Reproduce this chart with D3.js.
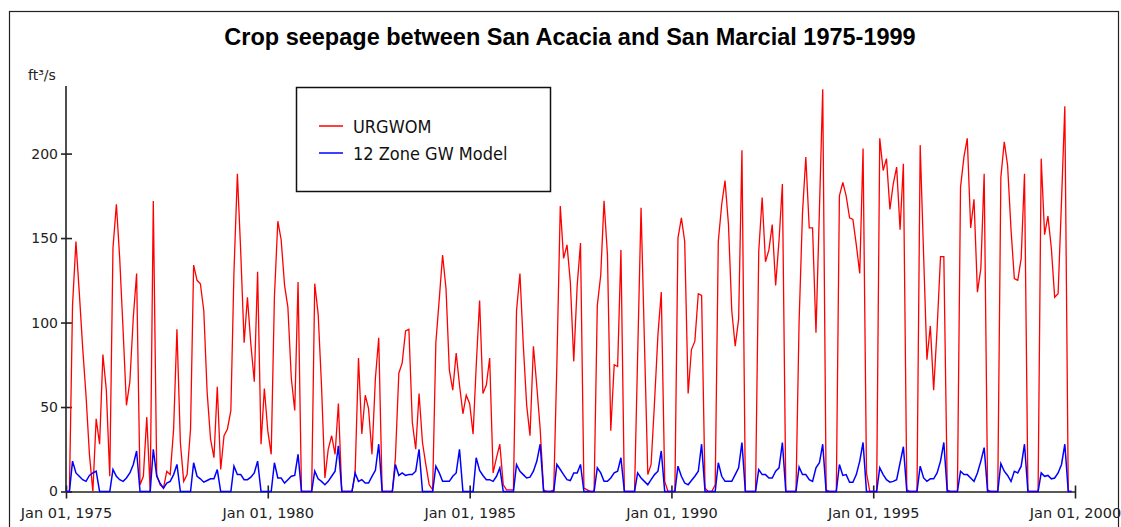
<!DOCTYPE html>
<html>
<head>
<meta charset="utf-8">
<script src="https://cdn.jsdelivr.net/npm/d3@7"></script>
<style>
  body { margin: 0; background: #fff; }
  svg { display: block; }
  .tick text { fill: #222; }
</style>
</head>
<body>
<div id="chart"></div>
<script>
// monthly values, Jan 1975 .. Dec 1999 (one row per year)
const startYear = 1975;

const urgwom = [
  0, 0, 110, 148, 118, 85, 57, 22, 0, 43, 28, 81,
  60, 9, 144, 170, 138, 95, 51, 65, 103, 129, 4, 9,
  44, 0, 172, 10, 4, 2, 12, 10, 37, 96, 29, 6,
  10, 37, 134, 125, 123, 107, 59, 31, 20, 62, 13, 33,
  37, 48, 130, 188, 142, 88, 115, 87, 65, 130, 28, 61,
  36, 22, 115, 160, 149, 122, 109, 67, 48, 124, 0, 0,
  0, 0, 123, 105, 63, 8, 25, 33, 22, 52, 0, 0,
  0, 0, 10, 79, 34, 57, 49, 22, 67, 91, 0, 0,
  0, 0, 20, 70, 76, 95, 96, 41, 25, 58, 29, 16,
  4, 1, 88, 114, 140, 120, 72, 60, 82, 63, 46, 57,
  52, 34, 74, 113, 58, 63, 79, 11, 20, 28, 4, 1,
  1, 1, 107, 129, 87, 51, 33, 86, 62, 37, 1, 0,
  0, 1, 75, 169, 138, 146, 124, 77, 122, 147, 2, 1,
  0, 0, 110, 128, 172, 140, 36, 75, 74, 143, 0, 0,
  0, 0, 80, 168, 90, 10, 16, 53, 93, 118, 6, 0,
  0, 0, 150, 162, 148, 58, 84, 89, 117, 116, 2, 0,
  0, 4, 148, 170, 184, 158, 107, 86, 102, 202, 0, 0,
  0, 0, 142, 174, 136, 143, 158, 122, 149, 182, 0, 0,
  0, 0, 100, 165, 198, 156, 156, 94, 166, 238, 1, 0,
  0, 0, 175, 183, 175, 162, 161, 146, 129, 203, 11, 0,
  0, 0, 209, 190, 197, 167, 182, 192, 155, 194, 1, 0,
  0, 0, 205, 140, 78, 98, 60, 96, 139, 139, 1, 0,
  0, 0, 180, 198, 209, 156, 173, 118, 132, 188, 1, 0,
  0, 0, 186, 207, 193, 155, 126, 125, 138, 188, 0, 0,
  0, 0, 197, 152, 163, 144, 115, 117, 172, 228, 0, 0
];

const gwModel = [
  0, 0, 18, 11, 9, 7, 6, 9.5, 11, 12, 0, 0,
  0, 0, 13, 9, 7, 6, 8, 11, 16, 24, 0, 0,
  0, 0, 25, 9, 5, 2, 5, 6, 10, 16, 0, 0,
  0, 0, 17, 9, 7.5, 5.5, 6.5, 7.5, 7.5, 13, 0, 0,
  0, 0, 15, 10, 10, 7, 7, 8.5, 11, 18, 0, 0,
  0, 0, 17, 8, 8, 5, 7, 9, 9.5, 22, 0, 0,
  0, 0, 12, 7.5, 6, 4, 6, 9, 12, 27, 0, 0,
  0, 0, 11, 6, 7, 5, 5, 9, 12.5, 28, 0, 0,
  0, 0, 16, 9.5, 11, 9.5, 10, 10, 12, 25, 0, 0,
  0, 0, 15, 11, 6, 6, 6, 9, 11, 25, 0, 0,
  0, 0, 20, 12.5, 9.5, 7, 7, 6, 9, 14, 0, 0,
  0, 0, 16, 12, 10, 8, 8.5, 12, 18, 28, 0, 0,
  0, 0, 16, 13, 10, 7, 6.5, 11, 11, 16, 0, 0,
  0, 0, 14, 11, 6, 6, 8, 11, 12, 20, 0, 0,
  0, 0, 11, 8, 6, 4, 7, 10, 12, 24, 0, 0,
  0, 0, 15, 9, 5, 4, 6.5, 9, 12, 28, 0, 0,
  0, 0, 17, 9, 6, 6, 6, 10, 14, 29, 0, 0,
  0, 0, 13, 10, 10, 8, 8, 12, 14, 29, 0, 0,
  0, 0, 14.5, 10, 10, 7, 6, 14, 17, 28, 0, 0,
  0, 0, 16, 9.5, 10, 5.5, 5.5, 10, 18, 29, 0, 0,
  0, 0, 14, 10, 7, 5.5, 6, 7, 17, 26.5, 0, 0,
  0, 0, 15, 8, 6, 7.5, 7.5, 11, 18, 29, 0, 0,
  0, 0, 12, 10, 10, 8, 6, 11, 18, 26, 0, 0,
  0, 0, 16.5, 12, 9.5, 6, 12, 11, 15, 28, 0, 0,
  0, 0, 11, 9, 9.5, 7.5, 8, 11, 16, 28, 0, 0
];

const seriesNames = ["URGWOM", "12 Zone GW Model"];
const seriesColors = ["#ff0000", "#0000ff"];
const yTicks = [0, 50, 100, 150, 200];
const xTickYears = [1975, 1980, 1985, 1990, 1995, 2000];
const titleText = "Crop seepage between San Acacia and San Marcial 1975-1999";
const unitText = "ft\u00b3/s";

const W = 1121, H = 527;
const margin = { left: 66, right: 46, top: 86, bottom: 35.5 };

const svg = d3.select("#chart").append("svg")
  .attr("width", W)
  .attr("height", H);

// outer frame
svg.append("rect")
  .attr("x", 9.5).attr("y", 11.5)
  .attr("width", 1109).attr("height", 560)
  .attr("fill", "none")
  .attr("stroke", "#222")
  .attr("stroke-width", 1.2);

const x = d3.scaleTime()
  .domain([new Date(startYear, 0, 1), new Date(2000, 0, 1)])
  .range([margin.left, W - margin.right]);

const y = d3.scaleLinear()
  .domain([0, 240])
  .range([H - margin.bottom, margin.top]);

const dates = urgwom.map((d, i) => new Date(startYear, i, 1));

// title + unit label
svg.append("text")
  .attr("x", 570).attr("y", 45)
  .attr("text-anchor", "middle")
  .style("font-family", "'Liberation Sans', Arial, sans-serif")
  .style("font-weight", "bold")
  .style("font-size", "23.5px")
  .attr("fill", "#000")
  .text(titleText);

svg.append("text")
  .attr("x", 28).attr("y", 80)
  .style("font-family", "'DejaVu Sans', sans-serif")
  .style("font-size", "14px")
  .attr("fill", "#222")
  .text(unitText);

// axes
const yAxis = d3.axisLeft(y)
  .tickValues(yTicks)
  .tickSize(5)
  .tickPadding(3)
  .tickSizeOuter(0);

const yG = svg.append("g")
  .attr("transform", `translate(${margin.left},0)`)
  .call(yAxis);
yG.select(".domain").attr("d", `M0,${y(0)}V${margin.top}`);
yG.selectAll(".tick line").attr("x1", 6);

const xAxis = d3.axisBottom(x)
  .tickValues(xTickYears.map((yr) => new Date(yr, 0, 1)))
  .tickFormat(d3.timeFormat("%b %d, %Y"))
  .tickSize(7)
  .tickPadding(9)
  .tickSizeOuter(0);

const xG = svg.append("g")
  .attr("transform", `translate(0,${y(0)})`)
  .call(xAxis);
xG.selectAll(".tick line").attr("y1", -6);

[yG, xG].forEach((g) => {
  g.selectAll(".domain, .tick line")
    .attr("stroke", "#222")
    .attr("stroke-width", 1.6);
  g.selectAll("text")
    .style("font-family", "'DejaVu Sans', sans-serif")
    .style("font-size", g === xG ? "14.5px" : "14px");
});

// lines
const line = d3.line()
  .x((d, i) => x(dates[i]))
  .y((d) => y(d));

[urgwom, gwModel].forEach((vals, k) => {
  svg.append("path")
    .datum(vals)
    .attr("fill", "none")
    .attr("stroke", seriesColors[k])
    .attr("stroke-width", k === 0 ? 1.3 : 1.5)
    .attr("stroke-linejoin", "miter")
    .attr("d", line);
});

// legend
const legend = svg.append("g");
legend.append("rect")
  .attr("x", 296.5).attr("y", 87.5)
  .attr("width", 254).attr("height", 104)
  .attr("fill", "#fff")
  .attr("stroke", "#111")
  .attr("stroke-width", 1.5);

seriesNames.forEach((name, k) => {
  const ly = 126 + k * 27;
  legend.append("line")
    .attr("x1", 319).attr("x2", 343)
    .attr("y1", ly).attr("y2", ly)
    .attr("stroke", seriesColors[k])
    .attr("stroke-width", 1.5);
  legend.append("text")
    .attr("x", 353).attr("y", ly + 7)
    .style("font-family", "'DejaVu Sans Condensed', 'DejaVu Sans', sans-serif")
    .style("font-stretch", "condensed")
    .style("font-size", "18px")
    .attr("fill", "#111")
    .text(name);
});
</script>
</body>
</html>
